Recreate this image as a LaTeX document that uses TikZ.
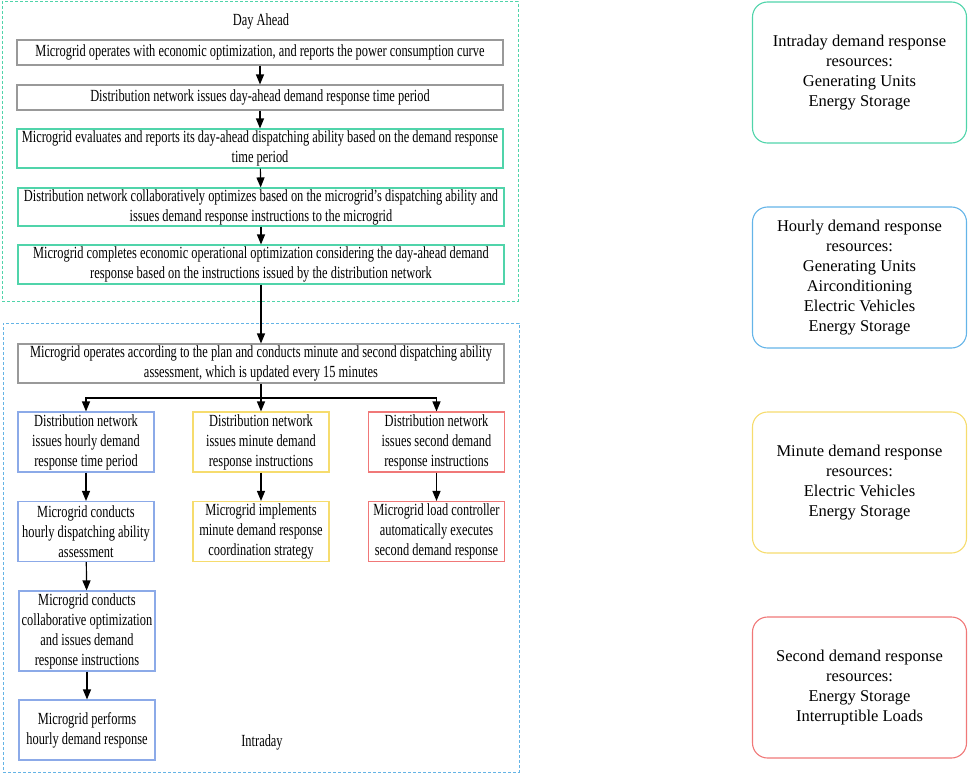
\documentclass[tikz,border=0pt]{standalone}
\usepackage{fontspec}
\setmainfont{Liberation Serif}[FakeStretch=0.73]
\newfontfamily\resfont{Liberation Serif}
\usetikzlibrary{arrows.meta}

\definecolor{dateal}{RGB}{80,212,170}
\definecolor{hrblue}{RGB}{100,180,232}
\definecolor{mnyellow}{RGB}{246,220,110}
\definecolor{scred}{RGB}{240,120,120}
\definecolor{colblue}{RGB}{140,170,232}
\definecolor{frameblue}{RGB}{100,180,230}

\tikzset{
    box/.style={draw=gray!80, line width=1.1pt, align=center, inner sep=0pt,
        minimum width=486pt, font=\fontsize{17}{20}\selectfont},
    colbox/.style={box, minimum width=136pt, minimum height=60pt},
    resbox/.style={draw, line width=1.1pt, rounded corners=15pt, align=center,
        minimum width=214pt, minimum height=141pt, font=\resfont\fontsize{16.5}{20}\selectfont},
    frame/.style={draw, dashed, dash pattern=on 3pt off 2pt, line width=1pt,
        inner sep=0pt},
    arr/.style={line width=1.2pt, -{Triangle[length=10pt,width=8pt]}},
}

\begin{document}
\begin{tikzpicture}[x=1pt, y=-1pt]
        \useasboundingbox (0,0) rectangle (969,773);
        % frames
        \node[frame, draw=dateal, minimum width=516pt, minimum height=299pt] (dayahead) at (260,151.5) {};
        \node[frame, draw=frameblue, minimum width=516pt, minimum height=449pt] (intraday) at (261,547.5) {};
        \node[font=\fontsize{17}{20}\selectfont] (daylabel) at (261,21) {Day Ahead};
        \node[font=\fontsize{17}{20}\selectfont] (intralabel) at (262,742) {Intraday};

        % day ahead steps
        \node[box, minimum height=25pt] (report) at (260,52.5) {Microgrid operates with economic optimization, and reports the power consumption curve};
        \node[box, minimum height=25pt] (period) at (260,97.5) {Distribution network issues day-ahead demand response time period};
        \node[box, draw=dateal, minimum height=39pt] (evaluate) at (260,148.5) {Microgrid evaluates and reports its day-ahead dispatching ability based on the demand response\\time period};
        \node[box, draw=dateal, minimum height=38pt] (optimize) at (261,207) {Distribution network collaboratively optimizes based on the microgrid's dispatching ability and\\issues demand response instructions to the microgrid};
        \node[box, draw=dateal, minimum height=39pt] (complete) at (261,264.5) {Microgrid completes economic operational optimization considering the day-ahead demand\\response based on the instructions issued by the distribution network};

        % intraday steps
        \node[box, minimum height=39pt] (operate) at (261,363.5) {Microgrid operates according to the plan and conducts minute and second dispatching ability\\assessment, which is updated every 15 minutes};
        \coordinate (fork) at (261,398);

        \node[colbox, draw=colblue] (hourissue) at (86,442) {Distribution network\\issues hourly demand\\response time period};
        \node[colbox, draw=colblue] (hourassess) at (86,531.5) {Microgrid conducts\\hourly dispatching ability\\assessment};
        \node[colbox, draw=colblue, minimum height=80pt] (hourcollab) at (87,631) {Microgrid conducts\\collaborative optimization\\and issues demand\\response instructions};
        \node[colbox, draw=colblue] (hourperform) at (87,730) {Microgrid performs\\hourly demand response};

        \node[colbox, draw=mnyellow] (minissue) at (261,442) {Distribution network\\issues minute demand\\response instructions};
        \node[colbox, draw=mnyellow] (minimpl) at (261,531.5) {Microgrid implements\\minute demand response\\coordination strategy};

        \node[colbox, draw=scred] (secissue) at (436.5,442) {Distribution network\\issues second demand\\response instructions};
        \node[colbox, draw=scred] (secexec) at (436.5,531.5) {Microgrid load controller\\automatically executes\\second demand response};

        % resources
        \node[resbox, draw=dateal] (intrares) at (859.5,72.5) {Intraday demand response\\resources:\\Generating Units\\Energy Storage};
        \node[resbox, draw=hrblue] (hourres) at (859.5,277.5) {Hourly demand response\\resources:\\Generating Units\\Airconditioning\\Electric Vehicles\\Energy Storage};
        \node[resbox, draw=mnyellow] (minres) at (859.5,482.5) {Minute demand response\\resources:\\Electric Vehicles\\Energy Storage};
        \node[resbox, draw=scred] (secres) at (859.5,687.5) {Second demand response\\resources:\\Energy Storage\\Interruptible Loads};

        % arrows
        \draw[arr] (report) -- (period);
        \draw[arr] (period) -- (evaluate);
        \draw[arr] (evaluate) -- (optimize);
        \draw[arr] (optimize) -- (complete);
        \draw[arr] (complete) -- (operate);
        \draw[line width=1.2pt] (operate) -- (fork);
        \draw[arr] (fork) -| (hourissue);
        \draw[arr] (fork) -- (minissue);
        \draw[arr] (fork) -| (secissue);
        \draw[arr] (hourissue) -- (hourassess);
        \draw[arr] (hourassess) -- (hourcollab);
        \draw[arr] (hourcollab) -- (hourperform);
        \draw[arr] (minissue) -- (minimpl);
        \draw[arr] (secissue) -- (secexec);
    \end{tikzpicture}
\end{document}
